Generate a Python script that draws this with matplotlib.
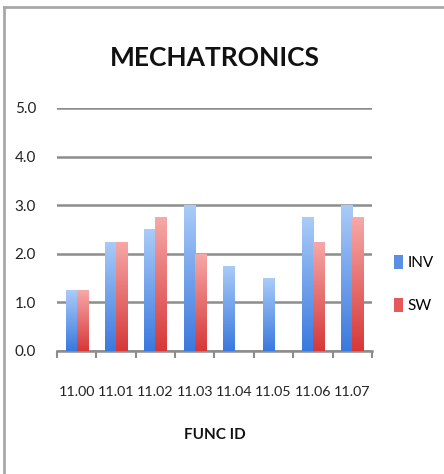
import matplotlib
matplotlib.use("Agg")
import matplotlib.pyplot as plt
import numpy as np
from matplotlib.colors import LinearSegmentedColormap
from matplotlib.lines import Line2D
from matplotlib.patches import Patch

categories = ["11.00", "11.01", "11.02", "11.03", "11.04", "11.05", "11.06", "11.07"]
inv_values = [1.25, 2.25, 2.5, 3.0, 1.75, 1.5, 2.75, 3.0]
sw_values = [1.25, 2.25, 2.75, 2.0, 0, 0, 2.25, 2.75]
y_ticks = [0.0, 1.0, 2.0, 3.0, 4.0, 5.0]

plt.rcParams["font.family"] = ["Lato", "DejaVu Sans"]

fig = plt.figure(figsize=(4.44, 4.74), dpi=100)
ax = fig.add_axes([0.128, 0.2595, 0.71, 0.5127])

x = np.arange(len(categories))
w = 0.28
inv_bars = ax.bar(x - w / 2, inv_values, w, color="#6f9fe8", zorder=3)
sw_bars = ax.bar(x + w / 2, sw_values, w, color="#ea7070", zorder=3)

blue_cmap = LinearSegmentedColormap.from_list("b", ["#3b79de", "#aacbf8"])
red_cmap = LinearSegmentedColormap.from_list("r", ["#d63838", "#f7a8a8"])
grad = np.linspace(0, 1, 100).reshape(-1, 1)
for bars, cmap in ((inv_bars, blue_cmap), (sw_bars, red_cmap)):
    for b in bars:
        h = b.get_height()
        if h <= 0:
            continue
        x0 = b.get_x()
        im = ax.imshow(grad, cmap=cmap, origin="lower", aspect="auto",
                       extent=(x0, x0 + b.get_width(), 0, h), zorder=4)
        im.set_clip_path(b)

ax.set_xlim(-0.5, len(categories) - 0.5)
ax.set_ylim(0, 5.0)
ax.set_yticks(y_ticks)
ax.set_yticklabels([f"{v:.1f}" for v in y_ticks], fontsize=11, color="#222222")
ax.yaxis.grid(True, color="#8c8c8c", linewidth=1.8, zorder=1)
ax.set_axisbelow(True)
ax.tick_params(axis="y", length=0, pad=15)
ax.set_xticks(x)
ax.set_xticklabels(categories, fontsize=10.3, color="#222222")
ax.set_xticks(np.arange(len(categories) + 1) - 0.5, minor=True)
ax.tick_params(axis="x", which="major", length=0, pad=25)
ax.tick_params(axis="x", which="minor", length=5, width=1.5, color="#8c8c8c")
for s in ("left", "right", "top"):
    ax.spines[s].set_visible(False)
ax.spines["bottom"].set_color("#8c8c8c")
ax.spines["bottom"].set_linewidth(1.8)

ax.set_title("MECHATRONICS", fontsize=19, fontweight="bold", pad=30, color="#111111")
ax.set_xlabel("FUNC ID", fontsize=11, fontweight="bold", labelpad=22, color="#111111")

handles = [Patch(facecolor="#5b8fe4"), Patch(facecolor="#e45a5a")]
ax.legend(handles, ["INV", "SW"], loc="center left", bbox_to_anchor=(1.025, 0.275),
          frameon=False, fontsize=11, handlelength=0.6, handleheight=1.0,
          handletextpad=0.3, labelspacing=1.85)

fig.add_artist(Line2D([4 / 444, 4 / 444], [0, 1 - 7 / 474], transform=fig.transFigure,
                      color="#a8a8a8", linewidth=2))
fig.add_artist(Line2D([4 / 444, 1], [1 - 7 / 474, 1 - 7 / 474], transform=fig.transFigure,
                      color="#a8a8a8", linewidth=2))

fig.savefig("out.png", dpi=100)
